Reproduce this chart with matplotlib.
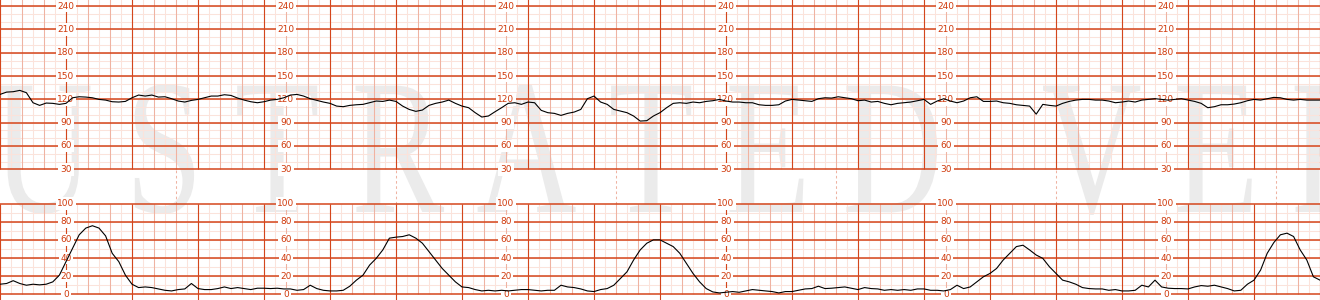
import matplotlib.pyplot as plt
import numpy as np
from matplotlib import font_manager, ft2font
from matplotlib.textpath import TextPath
from matplotlib.patches import PathPatch
from matplotlib.transforms import Affine2D

# one sample every 6 s; one dark grid square = 60 s
t = np.arange(0, 1201, 6)

# fetal heart rate (bpm)
fhr = [
    126.4, 129.4, 129.9, 131.6, 128.6, 115.7, 112.3, 115.3, 114.9, 113.6,
    114.9, 122.1, 123.4, 123.0, 122.1, 120.0, 119.1, 117.0, 116.6, 117.4,
    122.1, 125.6, 124.3, 125.6, 123.0, 123.4, 120.9, 117.9, 116.6, 118.7,
    120.0, 122.1, 124.3, 124.3, 126.0, 125.1, 121.7, 119.1, 117.0, 115.7,
    117.0, 119.1, 120.0, 122.1, 125.6, 126.4, 124.3, 120.9, 118.7, 116.6,
    114.9, 111.4, 110.6, 112.3, 113.1, 113.6, 115.7, 117.9, 117.4, 119.1,
    117.4, 111.4, 107.1, 104.6, 106.3, 112.3, 114.9, 116.6, 119.1, 114.9,
    111.4, 109.3, 102.9, 97.3, 98.6, 104.1, 109.3, 114.9, 115.7, 113.6,
    116.6, 115.7, 105.9, 102.9, 102.0, 99.4, 102.0, 103.7, 107.1, 120.9,
    124.3, 116.6, 113.6, 107.1, 105.0, 102.9, 98.6, 92.1, 92.6, 98.6,
    102.9, 109.3, 114.9, 115.7, 114.9, 116.6, 115.7, 117.4, 118.3, 120.0,
    117.9, 116.6, 116.6, 115.7, 115.7, 113.1, 112.3, 112.3, 113.1, 117.9,
    120.0, 119.1, 118.3, 117.4, 120.9, 122.1, 121.7, 123.4, 122.1, 120.9,
    118.3, 119.1, 116.6, 117.4, 114.9, 113.1, 114.9, 115.7, 116.6, 118.3,
    120.0, 113.6, 117.9, 120.9, 117.9, 115.7, 117.9, 122.1, 123.4, 117.4,
    117.4, 117.9, 115.7, 114.9, 113.1, 112.3, 111.4, 101.0, 113.6, 112.3,
    111.4, 114.9, 117.4, 119.1, 120.0, 120.0, 119.1, 119.1, 117.9, 115.7,
    116.6, 117.9, 116.6, 119.1, 120.0, 120.9, 120.0, 119.1, 120.0, 120.9,
    119.1, 117.4, 114.9, 109.3, 110.6, 113.1, 113.1, 114.0, 115.7, 118.3,
    120.0, 119.1, 120.9, 122.6, 122.1, 120.0, 119.1, 120.0, 119.1, 119.1,
    119.1,
]

# uterine activity (toco)
toco = [
    11.1, 11.9, 15.0, 11.9, 10.0, 11.1, 10.4, 11.1, 13.7, 21.1,
    36.0, 50.7, 65.6, 73.0, 75.6, 73.0, 64.4, 45.2, 36.0, 21.1,
    11.1, 7.4, 8.1, 7.4, 5.9, 4.4, 3.7, 5.2, 5.9, 11.9,
    6.3, 5.2, 5.2, 6.3, 8.1, 6.3, 7.4, 6.3, 5.2, 6.7,
    6.7, 6.3, 6.7, 5.9, 5.9, 4.4, 5.2, 10.0, 6.3, 4.4,
    3.7, 3.7, 4.4, 8.9, 15.6, 21.1, 32.2, 39.6, 48.9, 61.9,
    63.0, 63.7, 65.6, 61.9, 56.3, 47.0, 37.8, 28.5, 21.1, 13.7,
    8.1, 7.4, 5.2, 3.7, 4.4, 3.7, 4.4, 3.7, 4.4, 5.2,
    5.2, 4.4, 3.7, 4.4, 4.4, 10.0, 8.1, 7.4, 5.9, 3.7,
    3.0, 5.2, 6.3, 10.0, 17.4, 24.8, 37.8, 48.9, 56.3, 60.0,
    60.0, 56.3, 52.6, 45.2, 34.0, 23.0, 13.7, 6.3, 2.6, 1.5,
    2.2, 3.0, 2.2, 3.7, 5.2, 4.4, 3.7, 3.0, 1.5, 3.0,
    3.0, 4.4, 5.9, 6.3, 8.9, 6.3, 6.7, 7.4, 8.1, 6.7,
    5.2, 7.4, 6.3, 5.9, 4.4, 5.2, 4.4, 5.2, 4.4, 5.9,
    5.9, 4.4, 4.4, 3.7, 5.2, 10.0, 6.3, 8.1, 13.7, 19.3,
    23.0, 28.5, 37.8, 45.2, 52.6, 54.1, 48.9, 43.3, 39.6, 30.4,
    23.0, 15.6, 13.7, 11.1, 7.4, 6.3, 5.9, 5.9, 4.4, 5.2,
    3.7, 3.7, 4.4, 10.0, 8.1, 15.6, 8.1, 6.7, 6.3, 6.3,
    5.9, 8.1, 9.6, 8.9, 10.0, 8.1, 6.3, 3.7, 4.4, 11.1,
    15.6, 26.7, 45.2, 57.0, 65.6, 67.4, 63.7, 48.9, 37.8, 19.3,
    15.6,
]

fhr_ticks = [30, 60, 90, 120, 150, 180, 210, 240]
toco_ticks = [0, 20, 40, 60, 80, 100]
label_times = [60, 260, 460, 660, 860, 1060]
marker_times = [160, 360, 560, 760, 960, 1160]

DARK = '#d4461c'
MID = '#efb3a2'
LIGHT = '#fbe3db'
TEXT = '#d03a0c'

fig = plt.figure(figsize=(13.2, 3.0), dpi=100)

# watermark: condensed, letter-spaced serif drawn in pixel units behind everything
bg = fig.add_axes([0, 0, 1, 1], zorder=-10)
bg.set_axis_off()
bg.set_xlim(0, 1320)
bg.set_ylim(300, 0)
wm_em, wm_sx, wm_track = 193, 0.72, 32
wm_prop = font_manager.FontProperties(family='Liberation Serif')
ft = ft2font.FT2Font(font_manager.findfont(wm_prop))
ft.set_size(wm_em, 72)
x = -319
for ch in 'ILLUSTRATED VERSION':
    if ch != ' ':
        path = TextPath((0, 0), ch, size=wm_em, prop=wm_prop)
        tr = Affine2D().scale(wm_sx, -1).translate(x, 212) + bg.transData
        bg.add_patch(PathPatch(path, transform=tr, fc='#ebebeb', ec='none'))
    x += ft.load_char(ord(ch)).linearHoriAdvance / 65536 * wm_sx + wm_track

ax1 = fig.add_axes([0, 1 - 169.3 / 300, 1, 169.3 / 300])
ax2 = fig.add_axes([0, 0, 1, 98 / 300])
for ax in (ax1, ax2):
    ax.set_axis_off()
    ax.set_xlim(0, 1200)
ax1.set_ylim(30, 30 + 169.3 / 0.7767)
ax2.set_ylim(-6.3, 100 + 1.6 / 0.908)

# top panel grid
top = 250
ax1.vlines(np.arange(0, 1201, 10), 30, top, color=LIGHT, lw=0.75, zorder=1, clip_on=False)
ax1.vlines(np.arange(0, 1201, 20), 30, top, color=MID, lw=0.75, zorder=1.1, clip_on=False)
ax1.vlines(np.arange(0, 1201, 60), 30, top, color=DARK, lw=0.8, zorder=1.2, clip_on=False)
ax1.hlines(np.arange(40, 250, 10), 0, 1200, color=LIGHT, lw=0.75, zorder=1)
ax1.hlines(fhr_ticks, 0, 1200, color=DARK, lw=1.1, zorder=1.3, clip_on=False)

# bottom panel grid
ax2.vlines(np.arange(0, 1201, 10), 0, 100, color=LIGHT, lw=0.75, zorder=1, clip_on=False)
ax2.vlines(np.arange(0, 1201, 20), 0, 100, color=MID, lw=0.75, zorder=1.1, clip_on=False)
ax2.vlines(np.arange(0, 1201, 60), -6.3, 100, color=DARK, lw=0.8, zorder=1.2, clip_on=False)
ax2.hlines(np.arange(10, 100, 10), 0, 1200, color=LIGHT, lw=0.75, zorder=1)
ax2.hlines(toco_ticks, 0, 1200, color=DARK, lw=1.1, zorder=1.3, clip_on=False)

# dashed markers across the gap between panels
ax2.vlines(marker_times, 100, 100 + 34.2 / 0.908, color=MID, lw=0.75,
           linestyles=(0, (2.5, 2.5)), zorder=1, clip_on=False)

for ax, ticks in ((ax1, fhr_ticks), (ax2, toco_ticks)):
    for tl in label_times:
        for v in ticks:
            ax.text(tl, v, str(v), ha='center', va='center', fontsize=6.5,
                    color=TEXT, zorder=3, clip_on=False,
                    bbox=dict(boxstyle='square,pad=0.2', fc='white', ec='none'))

ax1.plot(t, fhr, color='black', lw=0.8, zorder=5)
ax2.plot(t, toco, color='black', lw=0.8, zorder=5)

fig.savefig('out.png', dpi=100)
